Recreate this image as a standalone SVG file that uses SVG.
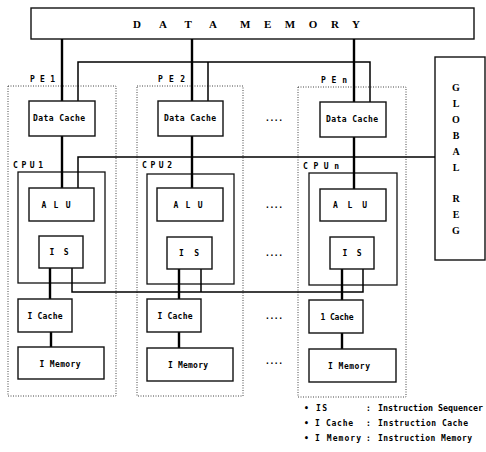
<svg xmlns="http://www.w3.org/2000/svg" width="486" height="452" viewBox="0 0 486 452">
<style>
.bg{fill:#ffffff}
.box{fill:#ffffff;stroke:#111;stroke-width:1.4}
.cpu{fill:none;stroke:#111;stroke-width:1.3}
.pe{fill:none;stroke:#444;stroke-width:1;stroke-dasharray:1 1.5}
.thick{fill:none;stroke:#000;stroke-width:2.4}
.thin{fill:none;stroke:#000;stroke-width:1.5}
.t{font-family:"DejaVu Sans Mono","Liberation Mono",monospace;font-weight:bold;font-size:8px;fill:#000}
.c{text-anchor:middle}
.big{font-family:"Liberation Serif","DejaVu Serif",serif;font-weight:bold;font-size:11px;fill:#000}
.g{font-family:"Liberation Serif","DejaVu Serif",serif;font-weight:bold;font-size:10px;fill:#000;text-anchor:middle}
</style>
<rect class="bg" x="0" y="0" width="486" height="452"/>

<g id="pe1"><rect class="pe" x="8" y="86" width="108" height="310"/><text class="t" x="30" y="82" textLength="25" lengthAdjust="spacing">P E 1</text></g>
<g id="pe2"><rect class="pe" x="137" y="86" width="106" height="310"/><text class="t" x="158" y="82" textLength="27" lengthAdjust="spacing">P E 2</text></g>
<g id="pen"><rect class="pe" x="298" y="87" width="108" height="310"/><text class="t" x="321" y="83" textLength="26" lengthAdjust="spacing">P E n</text></g>

<g id="data-memory"><rect class="box" x="31" y="8" width="443" height="31"/>
<text class="big" x="133" y="28" textLength="84" lengthAdjust="spacing">DATA</text>
<text class="big" x="240" y="28" textLength="120" lengthAdjust="spacing">MEMORY</text></g>

<g id="global-reg"><rect class="box" x="435" y="57" width="50" height="203"/>
<text class="g" x="456" y="91">G</text><text class="g" x="456" y="107">L</text><text class="g" x="456" y="123">O</text><text class="g" x="456" y="139">B</text><text class="g" x="456" y="155">A</text><text class="g" x="456" y="171">L</text><text class="g" x="456" y="202">R</text><text class="g" x="456" y="218">E</text><text class="g" x="456" y="234">G</text></g>

<g id="pe1-cpu"><rect class="cpu" x="18" y="172" width="87" height="111"/><text class="t" x="13" y="168" textLength="30" lengthAdjust="spacing">C P U 1</text></g>
<g id="pe2-cpu"><rect class="cpu" x="147" y="174" width="87" height="110"/><text class="t" x="142" y="168" textLength="30" lengthAdjust="spacing">C P U 2</text></g>
<g id="pen-cpu"><rect class="cpu" x="309" y="173" width="88" height="112"/><text class="t" x="303" y="169" textLength="36" lengthAdjust="spacing">C P U n</text></g>

<g id="connectors">
<path class="thick" d="M62 39V101M192 39V101M354 39V102"/>
<path class="thin" d="M78 101V62H370V102M208 62V101"/>
<path class="thick" d="M62 136V188M192 136V188M354 137V189"/>
<path class="thin" d="M78 188V157H435"/>
<path class="thick" d="M50 268V299M51 332V347M179 269V299M179 332V348M342 269V300M342 333V349"/>
<path class="thin" d="M72 268V292H363V269M201 269V292"/>
</g>

<g id="pe1-dcache"><rect class="box" x="29" y="101" width="66" height="35"/><text class="t c" x="59" y="121" textLength="52" lengthAdjust="spacing">Data Cache</text></g>
<g id="pe2-dcache"><rect class="box" x="158" y="101" width="65" height="35"/><text class="t c" x="190" y="121" textLength="52" lengthAdjust="spacing">Data Cache</text></g>
<g id="pen-dcache"><rect class="box" x="320" y="102" width="66" height="35"/><text class="t c" x="352" y="122" textLength="52" lengthAdjust="spacing">Data Cache</text></g>

<g id="pe1-alu"><rect class="box" x="29" y="188" width="65" height="33"/><text class="t c" x="56" y="208" textLength="29" lengthAdjust="spacing">A L U</text></g>
<g id="pe2-alu"><rect class="box" x="157" y="188" width="66" height="33"/><text class="t c" x="188" y="208" textLength="29" lengthAdjust="spacing">A L U</text></g>
<g id="pen-alu"><rect class="box" x="320" y="189" width="66" height="32"/><text class="t c" x="350" y="208" textLength="34" lengthAdjust="spacing">A L U</text></g>

<g id="pe1-is"><rect class="box" x="39" y="236" width="44" height="32"/><text class="t c" x="59" y="255" textLength="19" lengthAdjust="spacing">I S</text></g>
<g id="pe2-is"><rect class="box" x="167" y="237" width="45" height="32"/><text class="t c" x="189" y="256" textLength="20" lengthAdjust="spacing">I S</text></g>
<g id="pen-is"><rect class="box" x="330" y="237" width="44" height="32"/><text class="t c" x="352" y="256" textLength="19" lengthAdjust="spacing">I S</text></g>

<g id="pe1-icache"><rect class="box" x="18" y="299" width="54" height="33"/><text class="t c" x="45" y="319" textLength="35" lengthAdjust="spacing">I Cache</text></g>
<g id="pe2-icache"><rect class="box" x="147" y="299" width="54" height="33"/><text class="t c" x="175" y="319" textLength="35" lengthAdjust="spacing">I Cache</text></g>
<g id="pen-icache"><rect class="box" x="309" y="300" width="54" height="33"/><text class="t c" x="337" y="320" textLength="33" lengthAdjust="spacing">1 Cache</text></g>

<g id="pe1-imem"><rect class="box" x="18" y="347" width="86" height="32"/><text class="t c" x="60" y="367" textLength="41" lengthAdjust="spacing">I Memory</text></g>
<g id="pe2-imem"><rect class="box" x="147" y="348" width="86" height="33"/><text class="t c" x="188" y="368" textLength="40" lengthAdjust="spacing">I Memory</text></g>
<g id="pen-imem"><rect class="box" x="309" y="349" width="87" height="33"/><text class="t c" x="349" y="369" textLength="42" lengthAdjust="spacing">I Memory</text></g>

<g id="ellipses">
<text class="t" x="265" y="121" textLength="18" lengthAdjust="spacing">....</text>
<text class="t" x="265" y="208" textLength="18" lengthAdjust="spacing">....</text>
<text class="t" x="265" y="256" textLength="18" lengthAdjust="spacing">....</text>
<text class="t" x="265" y="319" textLength="18" lengthAdjust="spacing">....</text>
<text class="t" x="265" y="364" textLength="18" lengthAdjust="spacing">....</text>
</g>

<g id="legend">
<text class="t" x="304" y="411">•</text><text class="t" x="316" y="411" textLength="11" lengthAdjust="spacing">IS</text><text class="t" x="366" y="411">:</text><text class="t" x="378" y="411" textLength="105" lengthAdjust="spacingAndGlyphs">Instruction Sequencer</text>
<text class="t" x="304" y="426">•</text><text class="t" x="315" y="426" textLength="38" lengthAdjust="spacing">I Cache</text><text class="t" x="366" y="426">:</text><text class="t" x="378" y="426" textLength="90" lengthAdjust="spacing">Instruction Cache</text>
<text class="t" x="304" y="441">•</text><text class="t" x="315" y="441" textLength="46" lengthAdjust="spacing">I Memory</text><text class="t" x="366" y="441">:</text><text class="t" x="378" y="441" textLength="94" lengthAdjust="spacing">Instruction Memory</text>
</g>
</svg>
